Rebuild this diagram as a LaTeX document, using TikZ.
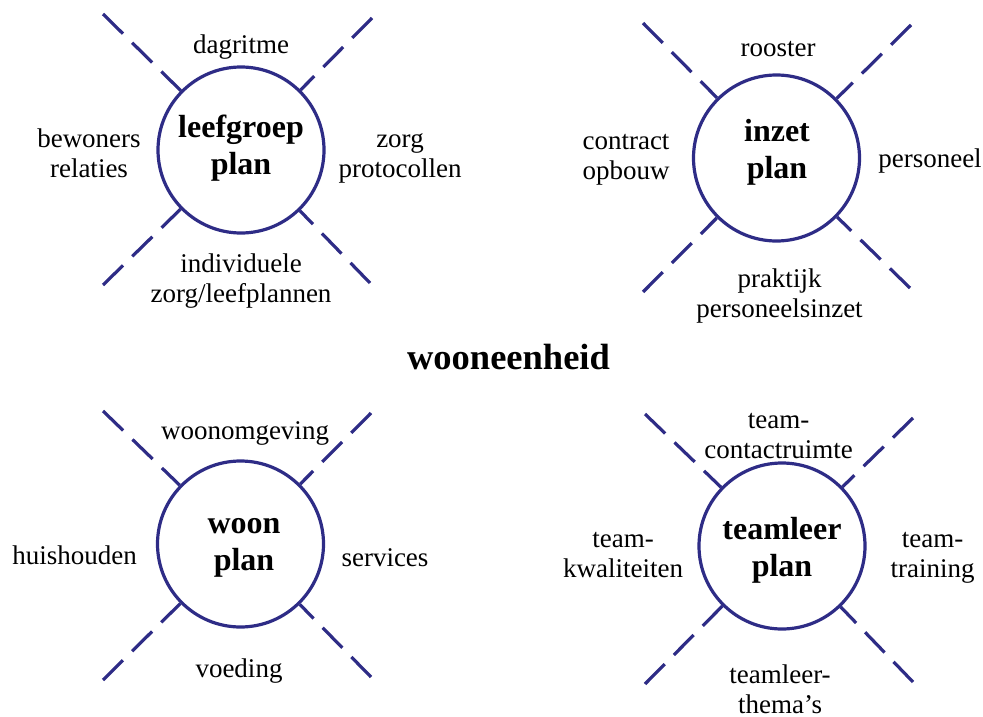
\documentclass[tikz,border=0pt]{standalone}
\usepackage{fontspec}
\setmainfont{Liberation Serif}
\definecolor{planblue}{RGB}{46,44,134}
\begin{document}
\begin{tikzpicture}[x=1pt,y=-1pt,
  plan/.style={circle,draw=planblue,line width=3.2pt,fill=white,minimum size=166pt,inner sep=0pt},
  spoke/.style={draw=planblue,line width=3.2pt,dash pattern=on 28pt off 13pt},
  lbl/.style={font=\fontsize{27}{30}\selectfont,align=center,inner sep=0pt},
  ttl/.style={font=\bfseries\fontsize{32}{37}\selectfont,align=center,inner sep=0pt}
]
\useasboundingbox (0,0) rectangle (983,717);

% the four plan circles
\node[plan] (c1) at (241,150) {};
\node[plan] (c2) at (776.5,158) {};
\node[plan] (c3) at (240.5,544) {};
\node[plan] (c4) at (782,546) {};

% outer ends of the dashed spokes
\coordinate (c1tl) at (103,14);  \coordinate (c1tr) at (372,18);
\coordinate (c1bl) at (103,285); \coordinate (c1br) at (370,283);
\coordinate (c2tl) at (643,23);  \coordinate (c2tr) at (911,25);
\coordinate (c2bl) at (643,292); \coordinate (c2br) at (910,288);
\coordinate (c3tl) at (103,411); \coordinate (c3tr) at (371,413);
\coordinate (c3bl) at (103,680); \coordinate (c3br) at (371,677);
\coordinate (c4tl) at (645,414); \coordinate (c4tr) at (913,418);
\coordinate (c4bl) at (645,684); \coordinate (c4br) at (913,682);

\foreach \c in {c1,c2,c3,c4}
  \foreach \s in {tl,tr,bl,br}
    \draw[spoke] (\c\s) -- (\c);

% titles inside the circles
\node[ttl] (t1) at (241,148) {leefgroep\\plan};
\node[ttl] (t2) at (777,152.5) {inzet\\plan};
\node[ttl] (t3) at (244,548) {woon\\plan};
\node[ttl] (t4) at (782,550) {teamleer\\plan};

% leefgroep plan
\node[lbl] (l1t) at (241,47) {dagritme};
\node[lbl] (l1l) at (89,153) {bewoners\\relaties};
\node[lbl] (l1r) at (400,158) {zorg\\protocollen};
\node[lbl] (l1b) at (241,281) {individuele\\zorg/leefplannen};

% inzet plan
\node[lbl] (l2t) at (778,49) {rooster};
\node[lbl] (l2l) at (626,160) {contract\\opbouw};
\node[lbl] (l2r) at (930,161.5) {personeel};
\node[lbl] (l2b) at (779.5,296) {praktijk\\personeelsinzet};

% woon plan
\node[lbl] (l3t) at (245,433) {woonomgeving};
\node[lbl] (l3l) at (74.5,555) {huishouden};
\node[lbl] (l3r) at (385,558) {services};
\node[lbl] (l3b) at (239,671) {voeding};

% teamleer plan
\node[lbl] (l4t) at (778.5,436.5) {team-\\contactruimte};
\node[lbl] (l4l) at (623,555) {team-\\kwaliteiten};
\node[lbl] (l4r) at (932.5,558) {team-\\training};
\node[lbl] (l4b) at (780,689) {teamleer-\\thema’s};

% central heading
\node[font=\bfseries\fontsize{36.5}{40}\selectfont,inner sep=0pt] (head) at (508.5,357.5) {wooneenheid};
\end{tikzpicture}
\end{document}
